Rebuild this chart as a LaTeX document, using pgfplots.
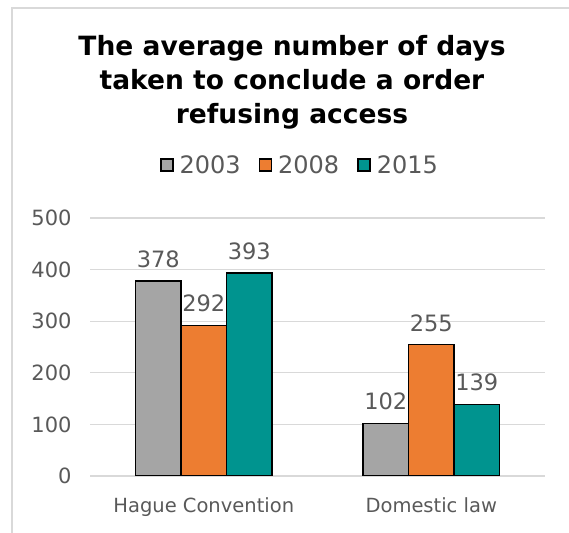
\documentclass[border=0pt]{standalone}
\usepackage{pgfplots}
\pgfplotsset{compat=1.18}
\usepackage{fontspec}
\setmainfont{DejaVu Sans}
\definecolor{cgray}{HTML}{A5A5A5}
\definecolor{corange}{HTML}{ED7D31}
\definecolor{cteal}{HTML}{00948F}
\definecolor{gridgray}{HTML}{D9D9D9}
\definecolor{txtgray}{HTML}{595959}
\begin{document}
\begin{tikzpicture}[x=1bp,y=1bp]
\useasboundingbox (0,0) rectangle (569,533);
\draw[draw=gridgray, line width=1.5bp] (12,0) -- (12,525) -- (569,525);
\node[align=center, font=\fontsize{26.5bp}{34bp}\selectfont\bfseries] at (292,451)
  {The average number of days\\taken to conclude a order\\refusing access};
\begin{axis}[
  at={(90bp,57bp)}, anchor=south west,
  width=455bp, height=258bp, scale only axis,
  xmin=-0.5, xmax=1.5, ymin=0, ymax=500,
  ybar=0pt, bar width=0.2,
  xtick={0,1}, xticklabels={Hague Convention, Domestic law},
  ytick={0,100,...,500},
  ymajorgrids, grid style={draw=gridgray, line width=1.2bp},
  axis line style={draw=none}, major tick length=0pt,
  tick label style={text=txtgray},
  yticklabel style={font=\fontsize{21bp}{23bp}\selectfont, xshift=-15bp},
  xticklabel style={font=\fontsize{19.5bp}{21bp}\selectfont, yshift=-18bp},
  /pgf/number format/assume math mode=true,
  nodes near coords,
  nodes near coords style={font=\fontsize{22.5bp}{24bp}\selectfont, text=txtgray, yshift=9bp},
  every axis plot/.append style={draw=black, line width=1.5bp},
  legend style={at={(0.4615,1.205)}, anchor=center, legend columns=3, draw=none,
    font=\fontsize{24bp}{26bp}\selectfont, text=txtgray,
    /tikz/every odd column/.append style={column sep=4bp},
    /tikz/every even column/.append style={column sep=16bp}},
  legend image code/.code={\draw[#1, draw=black, line width=1.5bp] (0bp,-6bp) rectangle (12bp,6bp);},
]
\addplot[fill=cgray] coordinates {(0,378) (1,102)};
\addplot[fill=corange] coordinates {(0,292) (1,255)};
\addplot[fill=cteal] coordinates {(0,393) (1,139)};
\legend{2003,2008,2015}
\end{axis}
\end{tikzpicture}
\end{document}
